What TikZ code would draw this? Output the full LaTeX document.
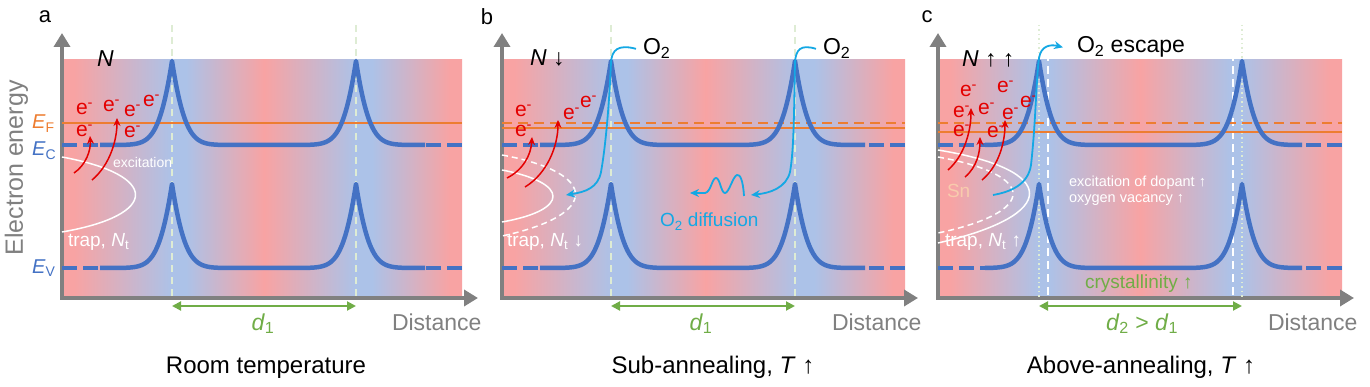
\documentclass[tikz,border=0pt]{standalone}
\usepackage{fontspec}
\setmainfont{Liberation Sans}
\usetikzlibrary{arrows.meta}

\definecolor{bgpink}{RGB}{248,163,163}
\definecolor{bgblue}{RGB}{172,194,232}
\definecolor{bandblue}{RGB}{68,114,196}
\definecolor{fermi}{RGB}{237,125,49}
\definecolor{elred}{RGB}{228,0,0}
\definecolor{oxcyan}{RGB}{20,168,228}
\definecolor{dgreen}{RGB}{112,173,71}
\definecolor{axgrey}{RGB}{128,128,128}
\definecolor{snorange}{RGB}{248,203,173}
\definecolor{gridpale}{RGB}{222,236,212}

\pgfdeclarehorizontalshading{bgab}{100bp}{color(0bp)=(bgpink); color(26.5bp)=(bgpink);
  color(38.75bp)=(bgblue); color(40.5bp)=(bgblue); color(50.25bp)=(bgpink);
  color(61.75bp)=(bgblue); color(63.75bp)=(bgblue); color(73.5bp)=(bgpink); color(100bp)=(bgpink)}
\pgfdeclarehorizontalshading{bgc}{100bp}{color(0bp)=(bgpink); color(26.5bp)=(bgpink);
  color(37.5bp)=(bgblue); color(38.75bp)=(bgblue); color(50bp)=(bgpink);
  color(61.25bp)=(bgblue); color(62.5bp)=(bgblue); color(73.5bp)=(bgpink); color(100bp)=(bgpink)}

\newcommand{\fsz}[1]{\fontsize{#1}{#1}\selectfont}
\newcommand{\elec}{e\textsuperscript{-}}
% base y, peak 1, peak 2, left edge, solid from, solid to, right edge
\newcommand{\bandcurve}[7]{%
  \draw[bandend] (#4,#1) -- (#5,#1);
  \draw[bandline] plot[samples at={#5,...,#6}]
    (\x,{#1-84*(exp(-min(30,abs(\x-#2)/13+((\x-#2)/30)^2))+exp(-min(30,abs(\x-#3)/13+((\x-#3)/30)^2)))});
  \draw[bandend] (#7,#1) -- (#6,#1);
}

\tikzset{
  every node/.style={inner sep=0pt, outer sep=0pt},
  axisline/.style={axgrey, line width=4pt, line join=miter,
    {Triangle[length=14pt,width=16pt]}-{Triangle[length=14pt,width=16pt]}},
  bandline/.style={bandblue, line width=4.5pt},
  bandend/.style={bandline, dash pattern=on 15pt off 6pt},
  peakline/.style={gridpale, line width=1.5pt, dash pattern=on 7pt off 5pt},
  fermiline/.style={fermi, line width=2pt},
  trapline/.style={white, line width=1.5pt},
  exarrow/.style={elred, line width=1.5pt, -{Stealth[length=8pt,width=7pt]}},
  oxarrow/.style={oxcyan, line width=1.8pt, -{Stealth[length=9pt,width=8pt]}},
  distarrow/.style={dgreen, line width=2pt,
    {Triangle[length=9pt,width=9pt]}-{Triangle[length=9pt,width=9pt]}},
  electron/.style={elred, font=\fsz{21}, anchor=base west},
  labeltext/.style={anchor=base west, font=\fsz{23}}
}

\begin{document}
\begin{tikzpicture}[x=1pt, y=-1pt, line join=round]
\useasboundingbox (0,0) rectangle (1370,387);

% backgrounds
\shade[shading=bgab] (62,60) rectangle (462,298);
\shade[shading=bgab] (502,60) rectangle (905,298);
\shade[shading=bgc] (938,60) rectangle (1342,298);

% peak positions
\coordinate (pa1) at (172,25);
\coordinate (pa2) at (356,25);
\coordinate (pb1) at (611,25);
\coordinate (pb2) at (795,25);
\coordinate (pc1) at (1039,25);
\coordinate (pc2) at (1242,25);

% axes
\foreach \ox/\nm in {62/a, 502/b, 938/c}{
  \draw[axisline] (\ox,33) -- (\ox,298) -- (\ox+416,298);
  \node[labeltext, text=axgrey] (dist\nm) at (\ox+330,330) {Distance};
}
\node[rotate=90, anchor=base, text=axgrey, font=\fsz{25}] (ylabel) at (23,168) {Electron energy};

% ---- a: room temperature ----
\node[font=\fsz{22}] (laba) at (45,17) {a};
\draw[peakline] (pa1) -- ++(0,273);
\draw[peakline] (pa2) -- ++(0,273);
\draw[fermiline] (62,123) -- (462,123);
\draw[trapline] (62,157) .. controls (160,175) and (160,215) .. (62,232);
\bandcurve{145}{172}{356}{62}{100}{425}{462}
\bandcurve{268}{172}{356}{62}{100}{425}{462}
\node[anchor=base west, text=fermi, font=\fsz{20}] (efa) at (32,129) {\textit{E}\textsubscript{F}};
\node[anchor=base west, text=bandblue, font=\fsz{20}] (eca) at (32,156) {\textit{E}\textsubscript{C}};
\node[anchor=base west, text=bandblue, font=\fsz{20}] (eva) at (32,273) {\textit{E}\textsubscript{V}};
\node[labeltext] (na) at (97,67) {\textit{N}};
\node[electron] (ea1) at (76,115) {\elec};
\node[electron] (ea2) at (103,112) {\elec};
\node[electron] (ea3) at (124,117) {\elec};
\node[electron] (ea4) at (143,107) {\elec};
\node[electron] (ea5) at (76,137) {\elec};
\node[electron] (ea6) at (124,138) {\elec};
\draw[exarrow] (74,173) .. controls (86,165) and (91,150) .. (90,136);
\draw[exarrow] (92,180) .. controls (110,165) and (117,140) .. (117,118);
\node[anchor=base west, text=white, font=\fsz{14}] (exa) at (113,168) {excitation};
\node[anchor=base west, text=white, font=\fsz{19}] (trapa) at (68,247) {trap, \textit{N}\textsubscript{t}};
\draw[distarrow] (pa1 |- 0,306) -- (pa2 |- 0,306);
\node[anchor=base, text=dgreen, font=\fsz{23}] (da) at (263,330) {\textit{d}\textsubscript{1}};
\node[anchor=base, font=\fsz{24}] (tita) at (266,373) {Room temperature};

% ---- b: sub-annealing ----
\node[font=\fsz{22}] (labb) at (487,17) {b};
\draw[peakline] (pb1) -- ++(0,273);
\draw[peakline] (pb2) -- ++(0,273);
\draw[fermiline, dash pattern=on 10pt off 6pt] (502,123) -- (905,123);
\draw[fermiline] (502,128) -- (905,128);
\draw[trapline] (502,170) .. controls (570,183) and (570,210) .. (502,222);
\draw[trapline, dash pattern=on 6pt off 4pt] (502,155) .. controls (600,173) and (600,215) .. (502,236);
\bandcurve{145}{611}{795}{502}{540}{865}{905}
\bandcurve{268}{611}{795}{502}{540}{865}{905}
\node[labeltext] (nb) at (530,66) {\textit{N} ↓};
\node[electron] (eb1) at (515,117) {\elec};
\node[electron] (eb2) at (515,137) {\elec};
\node[electron] (eb3) at (563,120) {\elec};
\node[electron] (eb4) at (580,108) {\elec};
\draw[exarrow] (507,178) .. controls (523,170) and (531,155) .. (532,137);
\draw[exarrow] (525,187) .. controls (548,173) and (558,145) .. (558,120);
\node[labeltext] (ob1) at (643,55) {O\textsubscript{2}};
\node[labeltext] (ob2) at (823,55) {O\textsubscript{2}};
\draw[oxarrow] ([xshift=-7pt]ob1.west) .. controls (618,44) and (612,50) .. (611,62)
  .. controls (609,110) and (605,150) .. (601,172) .. controls (598,188) and (585,192) .. (566,195);
\draw[oxarrow] ([xshift=-7pt]ob2.west) .. controls (800,44) and (796,50) .. (795,62)
  .. controls (794,110) and (794,150) .. (790,172) .. controls (786,188) and (770,193) .. (751,195);
\draw[oxarrow] (744,196) .. controls (743,180) and (740,174) .. (737,175)
  .. controls (733,176) and (729,193) .. (725,193) .. controls (721,193) and (720,178) .. (716,178)
  .. controls (712,178) and (711,192) .. (705,193) -- (690,193);
\node[anchor=base west, text=oxcyan, font=\fsz{19}] (diffb) at (660,227) {O\textsubscript{2} diffusion};
\node[anchor=base west, text=white, font=\fsz{19}] (trapb) at (507,247) {trap, \textit{N}\textsubscript{t} ↓};
\draw[distarrow] (pb1 |- 0,306) -- (pb2 |- 0,306);
\node[anchor=base, text=dgreen, font=\fsz{23}] (db) at (701,330) {\textit{d}\textsubscript{1}};
\node[anchor=base, font=\fsz{24}] (titb) at (713,373) {Sub-annealing, \textit{T} ↑};

% ---- c: above-annealing ----
\node[font=\fsz{22}] (labc) at (927,17) {c};
\draw[peakline, dash pattern=on 1.5pt off 3pt] (pc1) -- ++(0,273);
\draw[peakline, dash pattern=on 1.5pt off 3pt] (pc2) -- ++(0,273);
\draw[white, line width=1.8pt, dash pattern=on 8pt off 5pt] (1048,27) -- (1048,298);
\draw[white, line width=1.8pt, dash pattern=on 8pt off 5pt] (1233,27) -- (1233,298);
\draw[fermiline, dash pattern=on 10pt off 6pt] (938,123) -- (1342,123);
\draw[fermiline] (938,132) -- (1342,132);
\draw[trapline] (938,150) .. controls (1060,170) and (1060,215) .. (938,243);
\draw[trapline, dash pattern=on 6pt off 4pt] (938,157) .. controls (1038,175) and (1038,212) .. (938,233);
\bandcurve{145}{1039}{1242}{938}{985}{1302}{1342}
\bandcurve{268}{1039}{1242}{938}{985}{1302}{1342}
\node[labeltext] (nc) at (962,67) {\textit{N} ↑ ↑};
\node[electron] (ec1) at (960,97) {\elec};
\node[electron] (ec2) at (997,93) {\elec};
\node[electron] (ec3) at (953,118) {\elec};
\node[electron] (ec4) at (978,115) {\elec};
\node[electron] (ec5) at (1002,120) {\elec};
\node[electron] (ec6) at (1020,108) {\elec};
\node[electron] (ec7) at (953,137) {\elec};
\node[electron] (ec8) at (987,138) {\elec};
\draw[exarrow] (948,170) .. controls (965,155) and (971,130) .. (971,108);
\draw[exarrow] (965,177) .. controls (977,167) and (980,152) .. (980,137);
\draw[exarrow] (982,180) .. controls (1000,165) and (1005,140) .. (1005,120);
\node[anchor=base west, text=snorange, font=\fsz{19}] (snc) at (947,198) {Sn};
\node[labeltext] (oc) at (1077,53) {O\textsubscript{2} escape};
\draw[oxarrow] (993,195) .. controls (1010,192) and (1028,185) .. (1031,165)
  .. controls (1036,120) and (1036,80) .. (1039,58) .. controls (1041,46) and (1050,44) .. ([xshift=-14pt]oc.west);
\node[anchor=base west, text=white, font=\fsz{19}] (trapc) at (945,247) {trap, \textit{N}\textsubscript{t} ↑};
\node[anchor=base west, text=white, font=\fsz{14.5}] (dopc) at (1069,187) {excitation of dopant ↑};
\node[anchor=base west, text=white, font=\fsz{14.5}] (vacc) at (1069,203) {oxygen vacancy ↑};
\node[anchor=base west, text=dgreen, font=\fsz{19}] (cryc) at (1085,288) {crystallinity ↑};
\draw[distarrow] (pc1 |- 0,306) -- (pc2 |- 0,306);
\node[anchor=base, text=dgreen, font=\fsz{23}] (dc) at (1142,330) {\textit{d}\textsubscript{2} > \textit{d}\textsubscript{1}};
\node[anchor=base, font=\fsz{24}] (titc) at (1141,373) {Above-annealing, \textit{T} ↑};
\end{tikzpicture}
\end{document}
